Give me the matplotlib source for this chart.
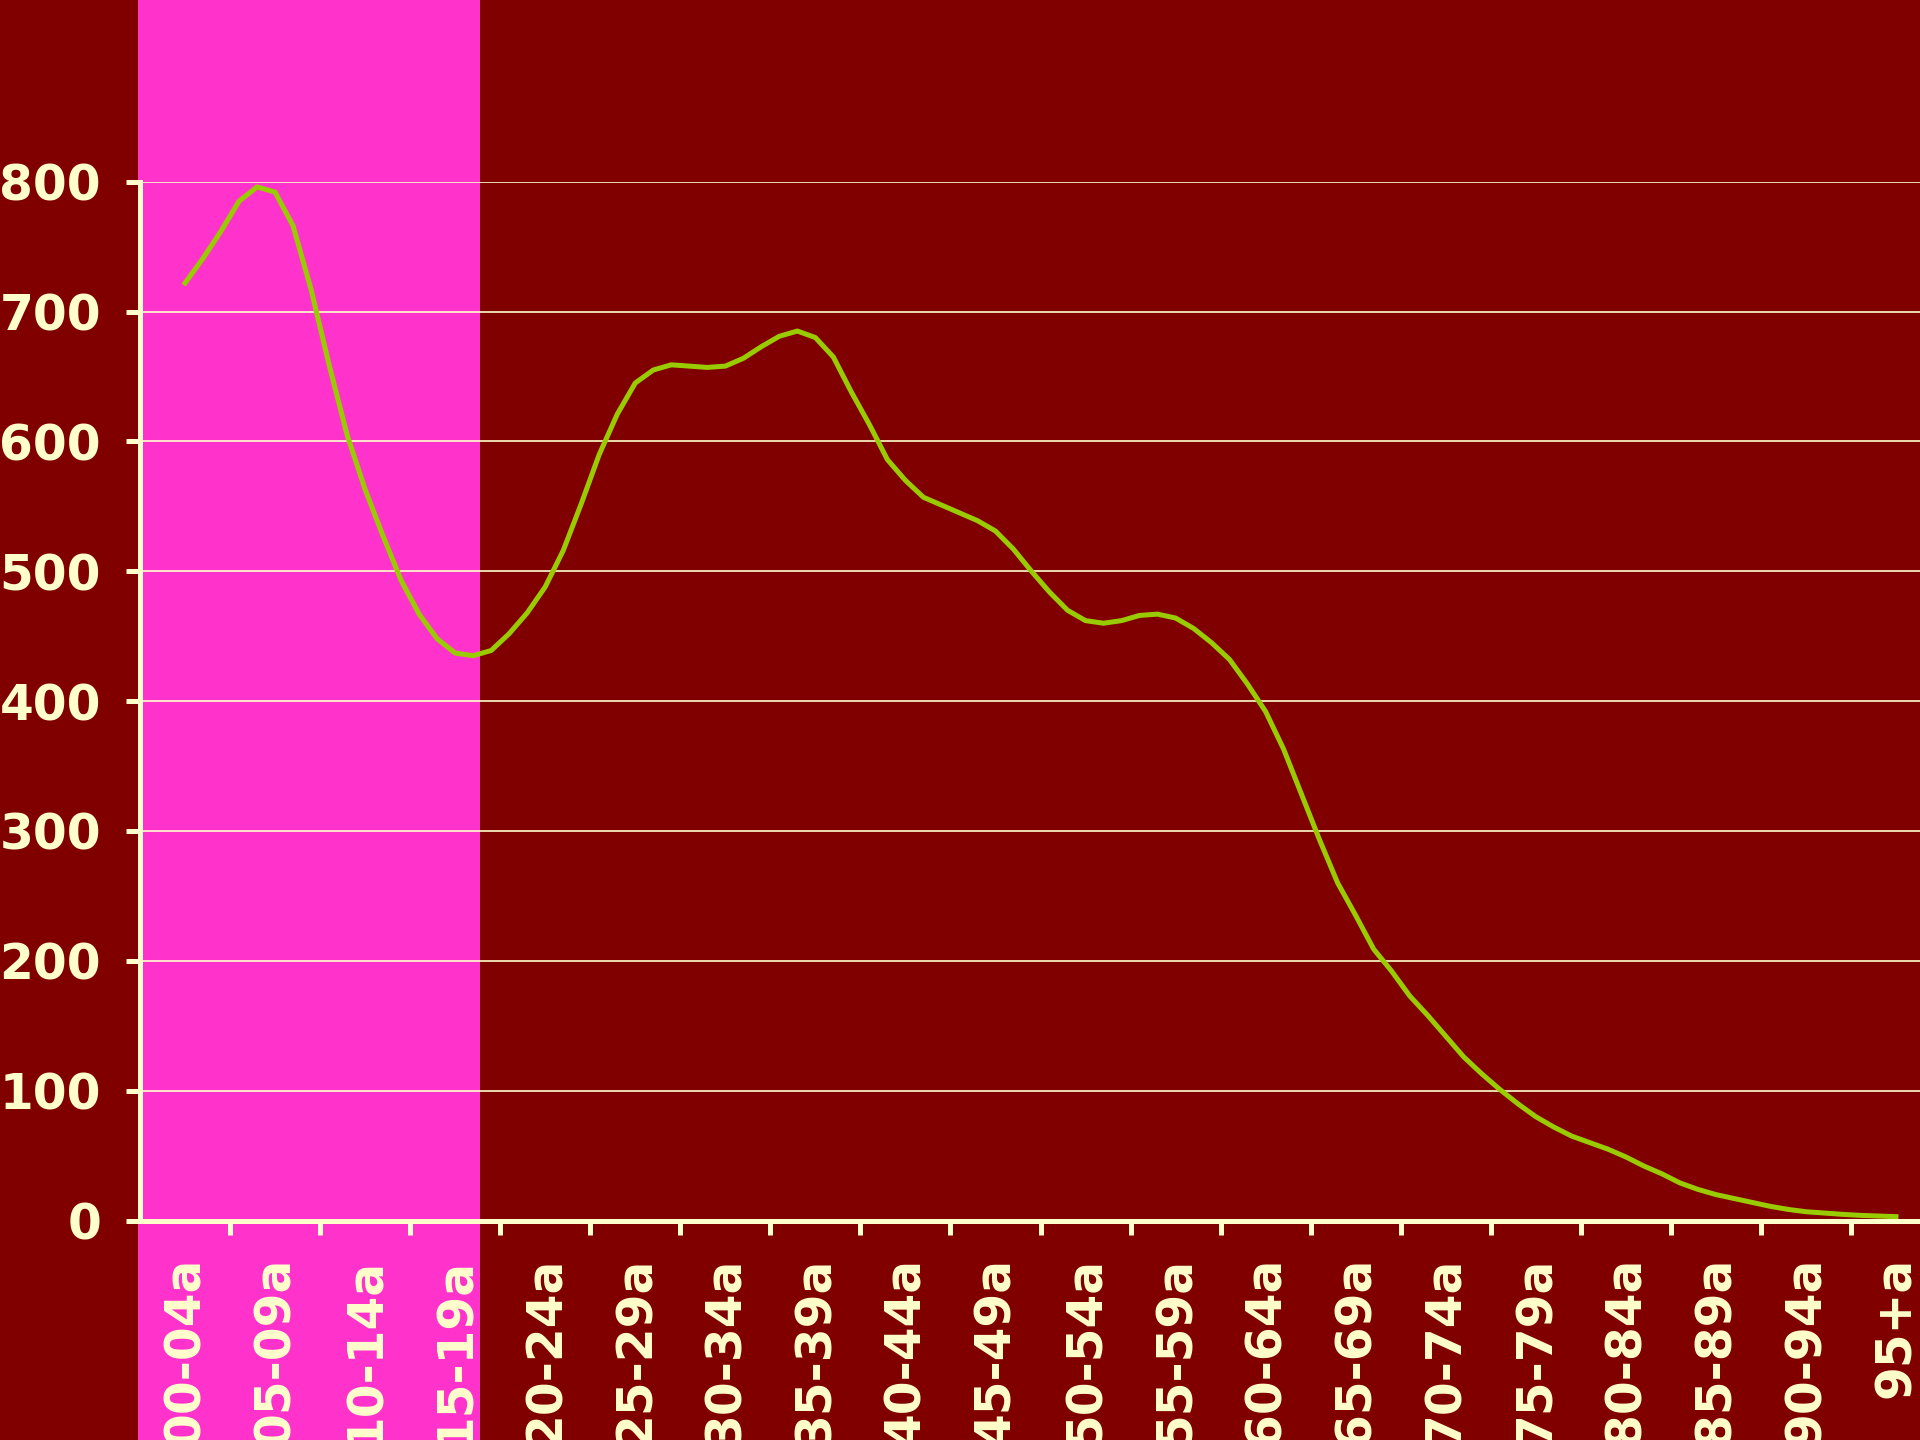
import numpy as np
import matplotlib.pyplot as plt
from matplotlib.patches import Rectangle

# Age groups shown on the x axis
groups = ['00-04a', '05-09a', '10-14a', '15-19a', '20-24a', '25-29a', '30-34a',
          '35-39a', '40-44a', '45-49a', '50-54a', '55-59a', '60-64a', '65-69a',
          '70-74a', '75-79a', '80-84a', '85-89a', '90-94a', '95+a']

# Single-year ages (0..95) and values
ages = np.arange(0, 96)
values = [722, 741, 762, 785, 796, 792, 766, 717, 659, 605,
          563, 527, 493, 467, 448, 437, 435, 439, 452, 468,
          488, 516, 552, 590, 621, 645, 655, 659, 658, 657,
          658, 664, 673, 681, 685, 680, 665, 638, 613, 586,
          570, 557, 551, 545, 539, 531, 517, 500, 484, 470,
          462, 460, 462, 466, 467, 464, 456, 445, 432, 413,
          392, 363, 328, 293, 260, 235, 209, 192, 173, 158,
          142, 126, 113, 101, 90, 80, 72, 65, 60, 55,
          49, 42, 36, 29, 24, 20, 17, 14, 11, 8.6,
          6.8, 5.8, 4.8, 4, 3.5, 3]

yticks = [0, 100, 200, 300, 400, 500, 600, 700, 800]

bg = '#800000'
band = '#ff33cc'
fg = '#ffffcc'
line = '#99cc00'

fig = plt.figure(figsize=(19.2, 14.4), dpi=100, facecolor=bg)

# pink highlight band behind the first age groups
fig.add_artist(Rectangle((138 / 1920, 0), (480 - 138) / 1920, 1,
                         transform=fig.transFigure, facecolor=band,
                         edgecolor='none', zorder=0))

ax = fig.add_axes([140 / 1920, 0.1524, 1801 / 1920, 0.7214])
ax.set_facecolor('none')
ax.set_zorder(1)

ax.plot(ages / 5, values, color=line, lw=3.6, solid_joinstyle='round', zorder=3)

ax.set_xlim(-0.5, len(groups) - 0.5)
ax.set_ylim(0, 800)

ax.set_yticks(yticks)
ax.set_yticklabels([str(v) for v in yticks])
ax.yaxis.grid(True, color=fg, lw=1.2)
ax.set_axisbelow(True)

ax.set_xticks(np.arange(len(groups)))
ax.set_xticklabels(groups, rotation=90, va='top', ha='center')
ax.set_xticks(np.arange(len(groups)) + 0.5, minor=True)

for side in ['top', 'right']:
    ax.spines[side].set_visible(False)
for side in ['left', 'bottom']:
    ax.spines[side].set_color(fg)
    ax.spines[side].set_linewidth(3.6)
    ax.spines[side].set_zorder(4)

ax.tick_params(axis='y', colors=fg, direction='out', length=10, width=3.6,
               pad=18, labelsize=35)
ax.tick_params(axis='x', which='major', length=0, pad=26, colors=fg,
               labelsize=35)
ax.tick_params(axis='x', which='minor', direction='out', length=10,
               width=3.6, color=fg)
for lab in ax.get_xticklabels() + ax.get_yticklabels():
    lab.set_fontweight('bold')

fig.savefig('out.png', dpi=100, facecolor=bg)
